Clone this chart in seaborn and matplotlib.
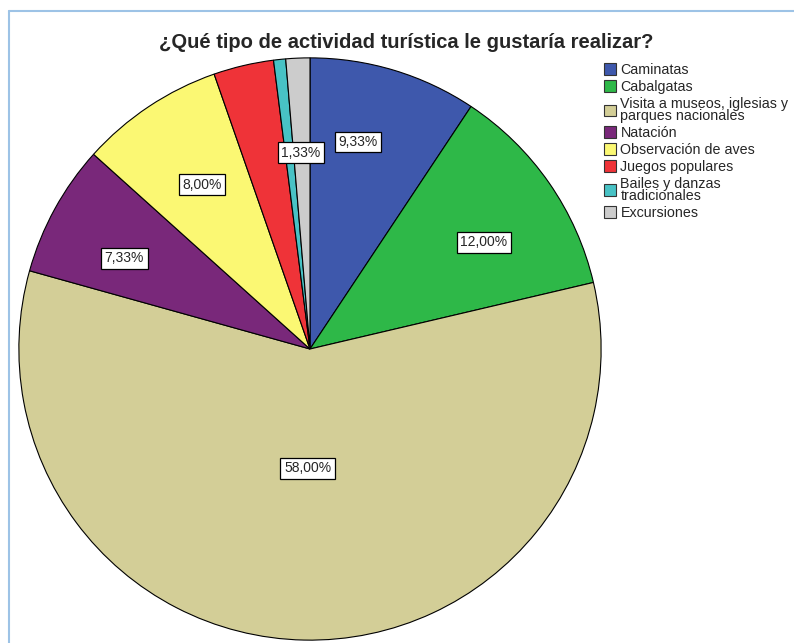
import numpy as np
import seaborn as sns
import matplotlib.pyplot as plt
from matplotlib.lines import Line2D

# data (percent of respondents)
categorias = ["Caminatas", "Cabalgatas", "Visita a museos, iglesias y\nparques nacionales",
              "Natación", "Observación de aves", "Juegos populares",
              "Bailes y danzas\ntradicionales", "Excursiones"]
porcentajes = [9.33, 12.00, 58.00, 7.33, 8.00, 3.34, 0.67, 1.33]
etiquetas = ["9,33%", "12,00%", "58,00%", "7,33%", "8,00%", "", "", "1,33%"]
colores = ["#3E58AC", "#2EB848", "#D3CE97", "#79287A", "#FBF873", "#EF3338", "#48C2C5", "#CCCCCC"]
# where each label sits: fraction of radius and small angle nudge (deg)
dist_etiqueta = [0.73, 0.70, 0.41, 0.71, 0.675, 0.7, 0.7, 0.675]
giro_etiqueta = [3.7, -3.2, 0.0, 2.7, -0.4, 0.0, 0.0, 0.2]

sns.set_style("white")
plt.rcParams['font.family'] = ['Liberation Sans', 'DejaVu Sans']

fig = plt.figure(figsize=(7.94, 6.43), dpi=100)
ax = fig.add_axes([18 / 794, 2 / 643, 584 / 794, 584 / 643])

wedges, _ = ax.pie(porcentajes, colors=colores, startangle=90, counterclock=False,
                   radius=1, wedgeprops=dict(edgecolor="black", linewidth=0.8))
ax.set_xlim(-1.003, 1.003)
ax.set_ylim(-1.003, 1.003)
ax.set_aspect("equal")
ax.axis("off")

# percentage labels in white boxes
for w, txt, d, g in zip(wedges, etiquetas, dist_etiqueta, giro_etiqueta):
    if not txt:
        continue
    ang = np.deg2rad((w.theta1 + w.theta2) / 2 + g)
    ax.text(d * np.cos(ang), d * np.sin(ang), txt, ha="center", va="center", fontsize=10,
            bbox=dict(boxstyle="square,pad=0.25", facecolor="white", edgecolor="black", linewidth=0.9))

fig.text(406 / 794, 1 - 42 / 643, "¿Qué tipo de actividad turística le gustaría realizar?",
         ha="center", va="center", fontsize=14.5, fontweight="bold")

leg = fig.legend(wedges, categorias, loc="upper left", bbox_to_anchor=(594 / 794, 1 - 53 / 643),
                 frameon=False, fontsize=10.3, handlelength=0.85, handleheight=0.9,
                 handletextpad=0.3, labelspacing=0.2, borderpad=0.2)
for t in leg.get_texts():
    t.set_linespacing(0.85)
for h in leg.legend_handles:
    h.set_edgecolor("#333333")

# light blue frame on the left and top
fig.add_artist(Line2D([9 / 794, 9 / 794], [0, 1 - 11 / 643], color="#9DC3E6", linewidth=1.5))
fig.add_artist(Line2D([9 / 794, 1], [1 - 11 / 643, 1 - 11 / 643], color="#9DC3E6", linewidth=1.5))

fig.savefig("out.png", dpi=100)
